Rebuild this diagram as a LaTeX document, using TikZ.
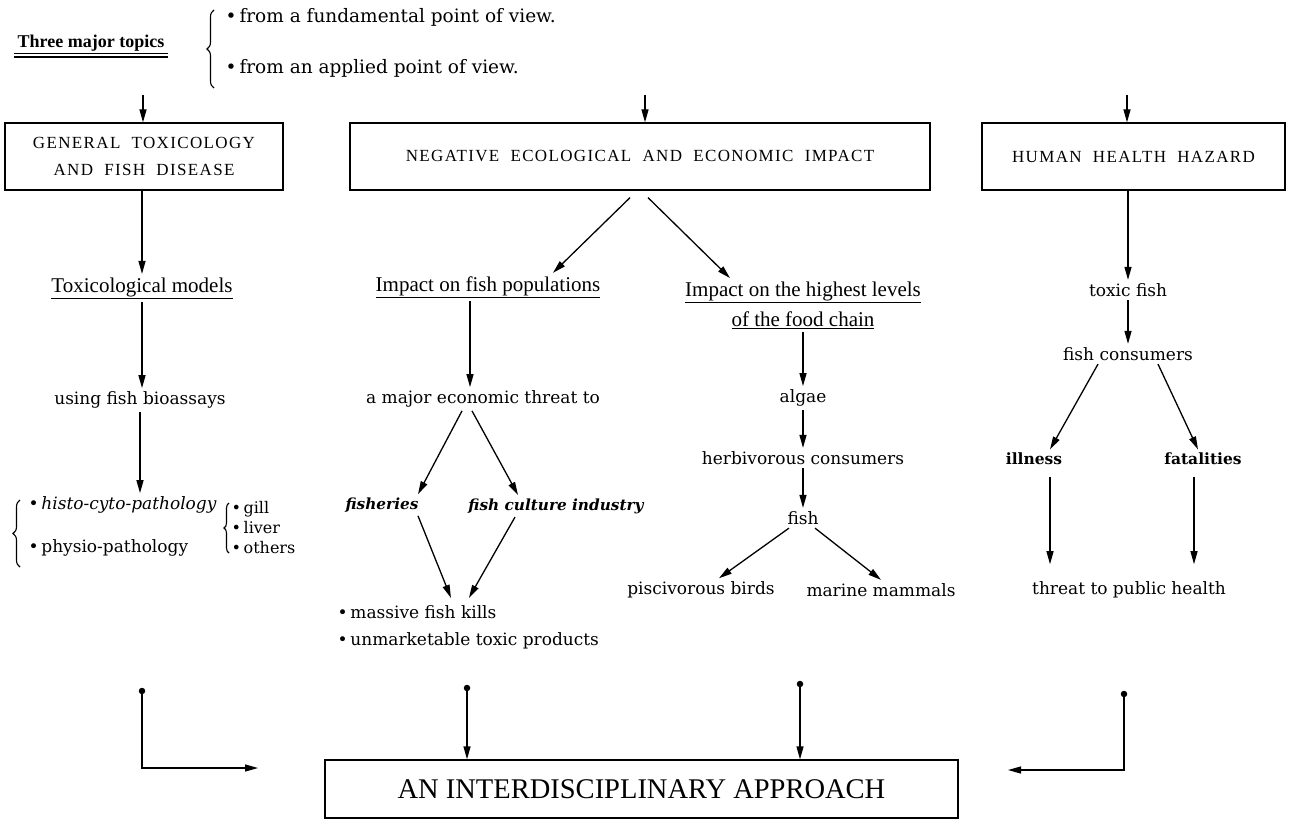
\documentclass[tikz,border=0pt]{standalone}
\usepackage{fontspec}
\setmainfont{DejaVu Serif}
\newfontfamily\capsfont[LetterSpace=8,WordSpace=2]{Liberation Serif}
\newfontfamily\headfont{Liberation Serif}
\usetikzlibrary{arrows.meta,positioning,decorations.pathreplacing}

\begin{document}
\begin{tikzpicture}[
      x=1pt, y=-1pt,
      font=\fontsize{17}{20}\selectfont,
      topic/.style={draw, line width=1.3pt, align=center, inner sep=0pt,
                    minimum height=67pt, font=\capsfont\fontsize{17}{27}\selectfont},
      head/.style={font=\headfont\fontsize{21}{30}\selectfont, align=center},
      bi/.style={font=\fontsize{15.3}{18}\selectfont\bfseries\itshape},
      bo/.style={font=\fontsize{15.5}{18}\selectfont\bfseries},
      arr/.style={-{Triangle[length=13pt,width=7pt]}, line width=1.3pt},
      brc/.style={decorate, decoration={brace, amplitude=7pt}, line width=1.1pt},
      pin/.style={circle, fill, inner sep=0pt, minimum size=6.5pt}
    ]
    \useasboundingbox (0,0) rectangle (1292,829);

    % the three topics
    \node[font=\headfont\bfseries\fontsize{18}{20}\selectfont] (three) at (91,43) {Three major topics};
    \draw[line width=0.7pt] ([yshift=1pt]three.south west) -- ([yshift=1pt]three.south east);
    \draw[line width=2pt] ([yshift=-2pt]three.south west) -- ([yshift=-2pt]three.south east);
    \node[anchor=west, font=\fontsize{18.5}{22}\selectfont] (fund) at (222,17)
      {\textbullet\,from a fundamental point of view.};
    \node[anchor=west, font=\fontsize{18.5}{22}\selectfont] (appl) at (222,68)
      {\textbullet\,from an applied point of view.};
    \draw[brc] (214,88) -- (214,10);

    \node[topic, minimum width=278pt] (gen) at (144,156.5) {GENERAL TOXICOLOGY\\AND FISH DISEASE};
    \node[topic, minimum width=580pt] (neg) at (640,156.5) {NEGATIVE ECOLOGICAL AND ECONOMIC IMPACT};
    \node[topic, minimum width=303pt] (hum) at (1133.5,156.5) {HUMAN HEALTH HAZARD};

    \coordinate (t1) at (143,95);
    \coordinate (t2) at (645,95);
    \coordinate (t3) at (1127,95);
    \foreach \a/\b in {t1/gen, t2/neg, t3/hum}
      \draw[arr] (\a) -- (\a |- \b.north);

    % toxicology branch
    \node[head] (toxmod) at (142,288) {\underline{Toxicological models}};
    \node (bio) at (140,400) {using fish bioassays};
    \node[anchor=west] (histo) at (25,505) {\textbullet\,\textit{histo-cyto-pathology}};
    \node[anchor=west] (physio) at (25,548) {\textbullet\,physio-pathology};
    \draw[brc] (20,567) -- (20,500);
    \node[anchor=west, align=left, font=\fontsize{16}{20}\selectfont] (organs) at (228,528)
      {\textbullet\,gill\\\textbullet\,liver\\\textbullet\,others};
    \draw[brc, decoration={amplitude=5pt}] (229,553) -- (229,503);

    \draw[arr] (gen.south -| toxmod) -- (toxmod);
    \draw[arr] (toxmod) -- (toxmod |- bio.north);
    \draw[arr] (bio) -- (bio |- histo.north);

    % ecological / economic branch
    \node[head] (popul) at (488,287) {\underline{Impact on fish populations}};
    \node[head] (high) at (803,305) {\underline{Impact on the highest levels}\\\underline{of the food chain}};
    \node (threat) at (483,399) {a major economic threat to};
    \node[bi] (fsh) at (382,505) {fisheries};
    \node[bi] (cult) at (556,506) {fish culture industry};
    \node[anchor=west] (kills) at (334,612) {\textbullet\,massive fish kills};
    \node[anchor=west] (unmk) at (334,641) {\textbullet\,unmarketable toxic products};

    \draw[arr] ([xshift=-10pt,yshift=-7pt]neg.south) -- ([xshift=65pt]popul.north);
    \draw[arr] ([xshift=8pt,yshift=-7pt]neg.south) -- ([xshift=-73pt]high.north);
    \draw[arr] ([xshift=-18pt]popul.south) -- ([xshift=-18pt]popul.south |- threat.north);
    \draw[arr] ([xshift=-21pt]threat.south) -- ([xshift=36pt]fsh.north);
    \draw[arr] ([xshift=-11pt]threat.south) -- ([xshift=-38pt]cult.north);
    \draw[arr] ([xshift=36pt]fsh.south) -- ([xshift=34pt,yshift=4pt]kills.north);
    \draw[arr] ([xshift=-41pt]cult.south) -- ([xshift=52pt,yshift=4pt]kills.north);

    % food chain
    \node (algae) at (803,398) {algae};
    \node (herb) at (803,458) {herbivorous consumers};
    \node (fishn) at (803,518) {fish};
    \node (birds) at (701,590) {piscivorous birds};
    \node (mamm) at (881,590) {marine mammals};
    \foreach \a/\b in {high/algae, algae/herb, herb/fishn}
      \draw[arr] (\a) -- (\b);
    \draw[arr] ([xshift=-14pt]fishn.south) -- ([xshift=18pt]birds.north);
    \draw[arr] ([xshift=12pt]fishn.south) -- ([xshift=0pt]mamm.north);

    % human health branch
    \node (toxic) at (1128,290) {toxic fish};
    \node (cons) at (1128,354) {fish consumers};
    \node[bo] (ill) at (1034,459) {illness};
    \node[bo] (fat) at (1203,459) {fatalities};
    \node (pub) at (1129,590) {threat to public health};
    \draw[arr] (hum.south -| toxic) -- (toxic);
    \draw[arr] (toxic) -- (cons);
    \draw[arr] ([xshift=-30pt]cons.south) -- ([xshift=16pt]ill.north);
    \draw[arr] ([xshift=30pt]cons.south) -- ([xshift=-5pt]fat.north);
    \draw[arr, shorten >=14pt] ([xshift=16pt,yshift=-8pt]ill.south) -- ([xshift=16pt]ill.south |- pub.north);
    \draw[arr, shorten >=14pt] ([xshift=-9pt,yshift=-8pt]fat.south) -- ([xshift=-9pt]fat.south |- pub.north);

    % converging on the common approach
    \node[draw, line width=1.3pt, minimum width=633pt, minimum height=58pt,
          font=\headfont\fontsize{28.5}{30}\selectfont] (app) at (641.5,789) {AN INTERDISCIPLINARY APPROACH};
    \node[pin] (p1) at (142,691) {};
    \node[pin] (p2) at (467,688) {};
    \node[pin] (p3) at (800,684) {};
    \node[pin] (p4) at (1124,694) {};
    \coordinate (inl) at (258,768);
    \coordinate (inr) at (1008,770);
    \draw[arr] (p1) |- (inl);
    \draw[arr] (p2) -- (p2 |- app.north);
    \draw[arr] (p3) -- (p3 |- app.north);
    \draw[arr] (p4) |- (inr);
  \end{tikzpicture}
\end{document}
